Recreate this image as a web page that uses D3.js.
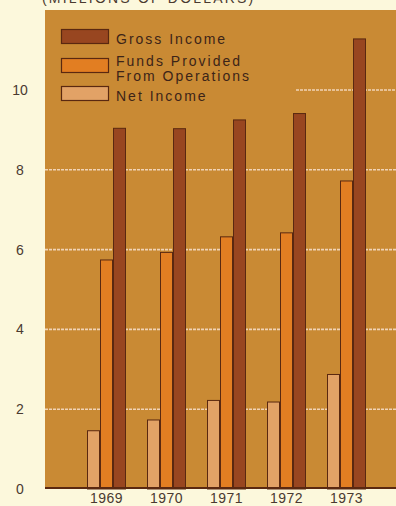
<!DOCTYPE html>
<html><head><meta charset="utf-8">
<script src="https://cdn.jsdelivr.net/npm/d3@7"></script>
<style>
html,body{margin:0;padding:0;background:#fcf8dc;}
svg{display:block;}
text{font-family:"Liberation Sans",Arial,sans-serif;}
</style></head>
<body>
<svg id="c" width="396" height="506"></svg>
<script>
const years = ["1969","1970","1971","1972","1973"];
const seriesNames = ["Net Income","Funds Provided From Operations","Gross Income"];
const netIncome = [1.46,1.73,2.22,2.18,2.87];
const fundsFromOps = [5.74,5.93,6.32,6.42,7.72];
const grossIncome = [9.04,9.03,9.25,9.41,11.28];
const yTicks = [0,2,4,6,8,10];
const title = "(MILLIONS OF DOLLARS)";

const colors = {"Net Income":"#e2a266","Funds Provided From Operations":"#e27e22","Gross Income":"#984620"};
const series = [netIncome, fundsFromOps, grossIncome];

const svg = d3.select("#c");
const panel = {x0:45, x1:396, y0:10, y1:489};

const y = d3.scaleLinear().domain([0,10]).range([489,90]);
const x = d3.scaleBand().domain(years).range([87,366]).paddingInner(0.35).paddingOuter(0);
const xs = d3.scaleBand().domain(seriesNames).range([0,x.bandwidth()]);

// title (cut off at top)
svg.append("text").attr("x",42).attr("y",3).attr("font-size",14).attr("fill","#4a3a30")
  .attr("letter-spacing","2.2").text(title);

// panel
svg.append("rect").attr("x",panel.x0).attr("y",panel.y0).attr("width",panel.x1-panel.x0).attr("height",panel.y1-panel.y0)
  .attr("fill","#c98a34");

// gridlines
svg.append("g").selectAll("line").data(yTicks.filter(d=>d>0)).join("line")
  .attr("x1",d=> d===10 ? 296 : panel.x0).attr("x2",panel.x1)
  .attr("y1",d=>y(d)).attr("y2",d=>y(d))
  .attr("stroke","#f6dcc4").attr("stroke-width",1.6).attr("stroke-dasharray","3,1").attr("opacity",0.9);

// bars
const g = svg.append("g");
years.forEach((yr,i)=>{
  seriesNames.forEach((s,j)=>{
    const v = series[j][i];
    g.append("rect")
      .attr("x",x(yr)+xs(s)+0.5).attr("y",y(v))
      .attr("width",xs.bandwidth()-1).attr("height",y(0)-y(v))
      .attr("fill",colors[s]).attr("stroke","#5a2810").attr("stroke-width",1);
  });
});

// baseline
svg.append("line").attr("x1",panel.x0).attr("x2",panel.x1).attr("y1",488).attr("y2",488)
  .attr("stroke","#5a2810").attr("stroke-width",2);

// y axis labels
const yAxis = d3.axisLeft(y).tickValues(yTicks).tickSize(0).tickPadding(0).tickFormat(d3.format("d"));
const ya = svg.append("g").attr("transform","translate(30,0)").call(yAxis);
ya.select(".domain").remove();
ya.selectAll("text").attr("font-size",14).attr("fill","#4a3a30").attr("text-anchor","middle")
  .attr("font-family","Liberation Sans, Arial, sans-serif").attr("x",-10);

// x axis labels
const xAxis = d3.axisBottom(x).tickSize(0).tickPadding(0);
const xa = svg.append("g").attr("transform","translate(0,493)").call(xAxis);
xa.select(".domain").remove();
xa.selectAll("text").attr("font-size",14).attr("fill","#4a3a30").attr("dy","0.72em")
  .attr("letter-spacing","0.5")
  .attr("font-family","Liberation Sans, Arial, sans-serif");

// legend
const legend = [
  {name:"Gross Income", lines:["Gross Income"], y:29},
  {name:"Funds Provided From Operations", lines:["Funds Provided","From Operations"], y:58},
  {name:"Net Income", lines:["Net Income"], y:86}
];
const lg = svg.append("g");
function legendText(x0, yb, s){
  lg.append("text").attr("x",x0).attr("y",yb).attr("font-size",14).attr("fill","#3c2418")
    .attr("letter-spacing","2").text(s);
}
legend.forEach(l=>{
  lg.append("rect").attr("x",61.5).attr("y",l.y+0.5).attr("width",47).attr("height",14)
    .attr("fill",colors[l.name]).attr("stroke","#5a2810").attr("stroke-width",1.2);
  if(l.lines.length===1){
    legendText(116, l.y+15, l.lines[0]);
  } else {
    legendText(116, l.y+8, l.lines[0]);
    legendText(116, l.y+23, l.lines[1]);
  }
});
</script>
</body></html>
